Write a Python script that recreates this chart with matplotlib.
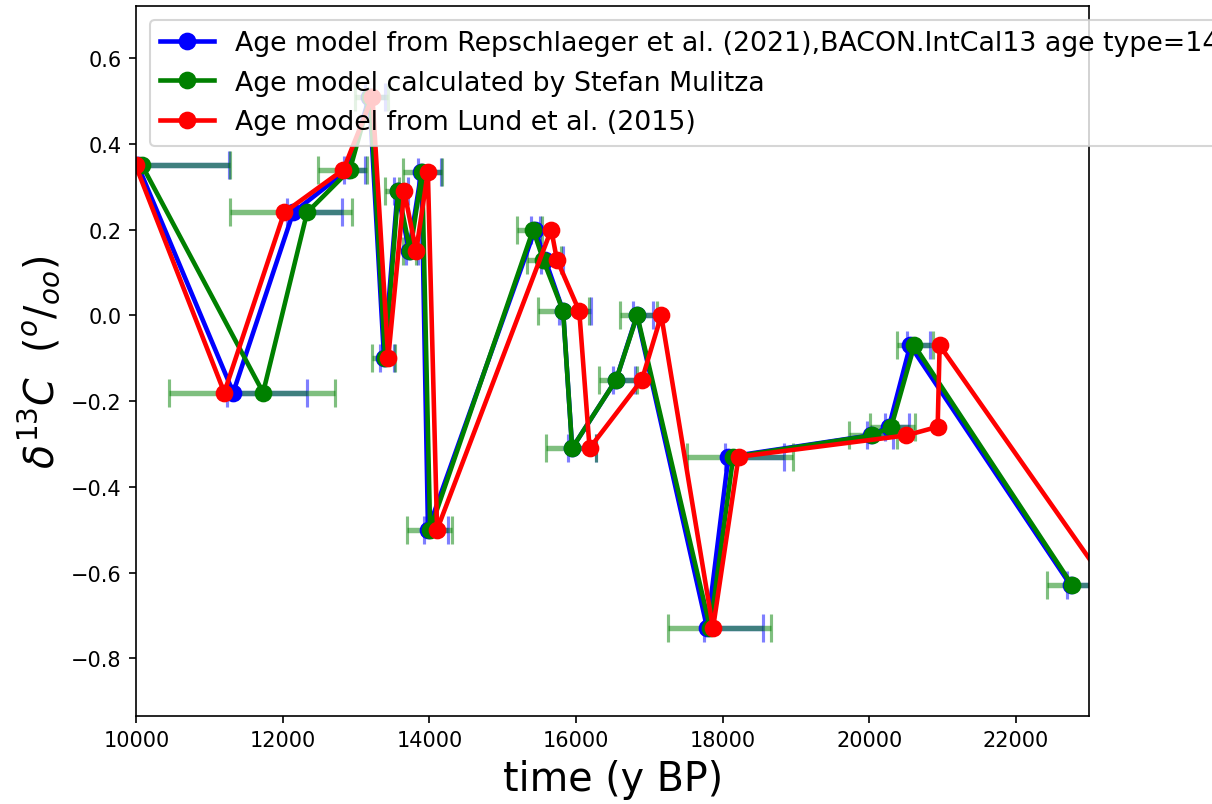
import numpy as np
import matplotlib
matplotlib.use('Agg')
import matplotlib.pyplot as plt

# wartosci d13C (wspolne dla wszystkich modeli wieku)
d13c = [0.35, -0.18, 0.24, 0.34, 0.51, -0.10, 0.29, 0.15, 0.335, -0.50, 0.20,
        0.13, 0.01, -0.31, -0.15, 0.00, -0.73, -0.33, -0.28, -0.26, -0.07, -0.63]

# Repschlaeger et al. (2021)
age_rep = [10020, 11322, 12140, 12890, 13180, 13380, 13565, 13720, 13890, 13980, 15440,
           15580, 15824, 15947, 16548, 16830, 17790, 18080, 20020, 20270, 20560, 22750]
age_rep_min = [9300, 11240, 12060, 12840, 13120, 13330, 13520, 13680, 13840, 13930, 15390,
               15520, 15770, 15890, 16500, 16780, 17740, 18030, 19970, 20220, 20510, 22700]
age_rep_max = [11266, 12330, 12808, 13122, 13395, 13518, 13709, 13846, 14155, 14255, 15510,
               15820, 16203, 16276, 16807, 17050, 18552, 18833, 20330, 20549, 20826, 23500]

# Stefan Mulitza
age_mul = [10078, 11730, 12330, 12915, 13190, 13395, 13573, 13737, 13900, 14009, 15415,
           15551, 15824, 15947, 16548, 16835, 17831, 18145, 20043, 20302, 20616, 22773]
age_mul_min = [9300, 10446, 11279, 12477, 12986, 13218, 13395, 13640, 13641, 13691, 15201,
               15330, 15480, 15589, 16307, 16594, 17249, 17514, 19720, 20007, 20381, 22433]
age_mul_max = [11272, 12713, 12945, 13150, 13436, 13532, 13590, 13820, 14169, 14306, 15540,
               15800, 16180, 16276, 16831, 17105, 18665, 18961, 20385, 20631, 20873, 23500]

# Lund et al. (2015)
age_lund = [9990, 11200, 12018, 12826, 13222, 13437, 13655, 13818, 13978, 14104, 15662,
            15739, 16044, 16185, 16900, 17163, 17869, 18218, 20508, 20935, 20962, 23260]

labels = ['Age model from Repschlaeger et al. (2021),BACON.IntCal13 age type=14C',
          'Age model calculated by Stefan Mulitza',
          'Age model from Lund et al. (2015)']


def xerr_from(age, lo, hi):
    age = np.array(age)
    return [age - np.array(lo), np.array(hi) - age]


fig = plt.figure(figsize=(8.08, 805 / 150), dpi=150)
ax = fig.add_axes([0.1125, 0.1097, 0.786, 0.8812])

# slupki bledow (najpierw niebieskie, potem zielone)
ax.errorbar(age_rep, d13c, xerr=xerr_from(age_rep, age_rep_min, age_rep_max), fmt='none',
            ecolor='blue', alpha=0.5, elinewidth=2.6, capsize=6.5, capthick=1.5)
ax.errorbar(age_mul, d13c, xerr=xerr_from(age_mul, age_mul_min, age_mul_max), fmt='none',
            ecolor='green', alpha=0.5, elinewidth=2.6, capsize=6.5, capthick=1.5)

ax.plot(age_rep, d13c, 'o-', color='blue', lw=2.2, ms=7.5, label=labels[0])
ax.plot(age_mul, d13c, 'o-', color='green', lw=2.2, ms=7.5, label=labels[1])
ax.plot(age_lund, d13c, 'o-', color='red', lw=2.2, ms=7.5, label=labels[2])

ax.set_xlim(10000, 23000)
ax.set_ylim(-0.934, 0.721)
ax.set_xlabel('time (y BP)', fontsize=19)
ax.set_ylabel(r'$\delta^{13}C$  ($^o/_{oo}$)', fontsize=19)
ax.legend(loc='upper left', fontsize=12.85)

fig.savefig('out.png', dpi=150)
